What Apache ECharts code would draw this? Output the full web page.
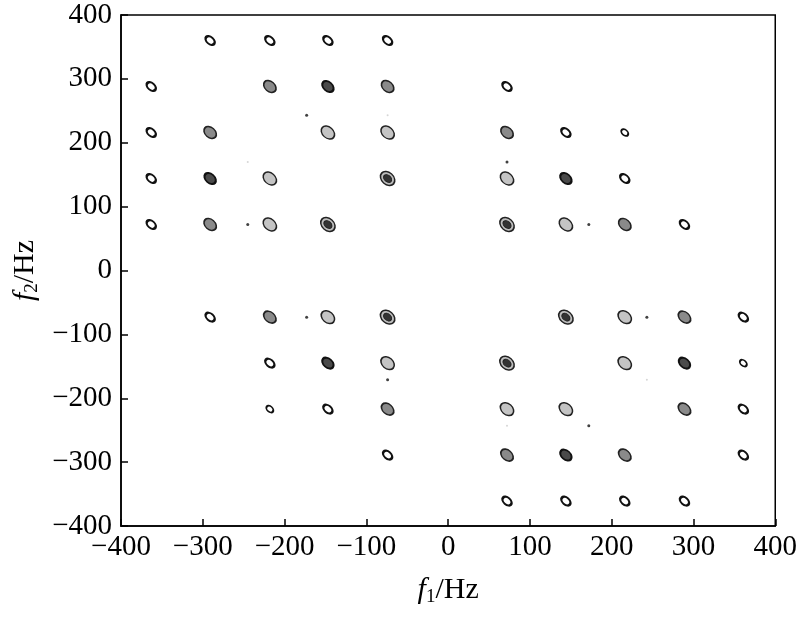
<!DOCTYPE html>
<html>
<head>
<meta charset="utf-8">
<script src="https://cdn.jsdelivr.net/npm/echarts@6/dist/echarts.min.js"></script>
<style>html,body{margin:0;padding:0;background:#fff}#c{width:800px;height:621px}</style>
</head>
<body>
<div id="c"></div>
<script>
// f1, f2 (Hz) of cross peaks, grouped by contour intensity
const peaksWeak = [
  [-291,360],[-218,360],[-147,360],[-74,360],
  [-363,288],[72,288],
  [-363,216],[144,216],
  [-363,144],[216,144],
  [-363,72],[289,72],
  [-291,-73],[361,-73],
  [-218,-145],
  [-147,-217],[361,-217],
  [-74,-289],[361,-289],
  [72,-361],[144,-361],[216,-361],[289,-361]
];
const peaksSmall = [[216,216],[-218,-217],[361,-145]];
const peaksDark = [[-147,288],[-291,144],[144,144],[-147,-145],[289,-145],[144,-289]];
const peaksGrey = [
  [-218,288],[-74,288],[-291,216],[72,216],[-291,72],[216,72],
  [-218,-73],[289,-73],[-74,-217],[289,-217],[72,-289],[216,-289]
];
const peaksLight = [
  [-147,216],[-74,216],[-218,144],[72,144],[-218,72],[144,72],
  [-147,-73],[216,-73],[-74,-145],[216,-145],[72,-217],[144,-217]
];
const peaksStrong = [[-74,144],[-147,72],[72,72],[-74,-73],[144,-73],[72,-145]];
const dots = [[-173,243],[-245,72],[72,170],[172,72],[-173,-73],[243,-73],[-74,-171],[172,-243]];
const faintDots = [[-74,243],[-245,170],[243,-171],[72,-243]];

const xRange = [-400, 400];
const yRange = [-400, 400];
const tickStep = 100;

const serif = '"Liberation Serif", "Times New Roman", serif';
const ROT = -42;
const minusFmt = v => String(v).replace('-', '\u2212');

function peakSeries(data, size, fill, border, bw, z) {
  return {
    type: 'scatter', data: data, symbol: 'circle', symbolSize: size, symbolRotate: ROT,
    itemStyle: { color: fill, borderColor: border, borderWidth: bw, opacity: 1 },
    z: z || 2, silent: true, animation: false
  };
}

const nameRich = {
  i: { fontFamily: serif, fontStyle: 'italic', fontSize: 30, color: '#000' },
  s: { fontFamily: serif, fontSize: 19, color: '#000', padding: [14, 0, 0, 0] },
  n: { fontFamily: serif, fontSize: 30, color: '#000' }
};

const chart = echarts.init(document.getElementById('c'), null, { renderer: 'canvas' });
chart.setOption({
  backgroundColor: '#fff',
  animation: false,
  grid: { left: 121, right: 24, top: 15, bottom: 95, show: true, borderColor: '#000', borderWidth: 1.5, backgroundColor: 'transparent' },
  xAxis: {
    type: 'value', min: xRange[0], max: xRange[1], interval: tickStep,
    axisLine: { show: true, onZero: false, lineStyle: { color: '#000', width: 1.5 } },
    axisTick: { show: true, inside: true, length: 7, lineStyle: { color: '#000', width: 1.5 } },
    splitLine: { show: false },
    axisLabel: { color: '#000', fontFamily: serif, fontSize: 29, margin: 7, formatter: minusFmt },
    name: '{i|f}{s|1}{n|/Hz}', nameLocation: 'middle', nameGap: 48,
    nameTextStyle: { rich: nameRich }
  },
  yAxis: {
    type: 'value', min: yRange[0], max: yRange[1], interval: tickStep,
    axisLine: { show: true, onZero: false, lineStyle: { color: '#000', width: 1.5 } },
    axisTick: { show: true, inside: true, length: 7, lineStyle: { color: '#000', width: 1.5 } },
    splitLine: { show: false },
    axisLabel: { color: '#000', fontFamily: serif, fontSize: 29, margin: 9, formatter: minusFmt },
    name: '{i|f}{s|2}{n|/Hz}', nameLocation: 'middle', nameGap: 74, nameRotate: 90,
    nameTextStyle: { rich: nameRich }
  },
  series: [
    peakSeries(peaksWeak, [10.5, 7], '#fff', '#111', 2.3),
    peakSeries(peaksSmall, [8, 5.5], '#fff', '#111', 1.8),
    peakSeries(peaksDark, [13, 9], '#4a4a4a', '#111', 2),
    peakSeries(peaksGrey, [14, 10], '#8a8a8a', '#222', 1.6),
    peakSeries(peaksLight, [15, 11], '#c4c4c4', '#222', 1.5),
    peakSeries(peaksStrong, [16, 12], '#bdbdbd', '#222', 1.5),
    peakSeries(peaksStrong, [9, 6.5], '#333', '#222', 1, 3),
    { type: 'scatter', data: dots, symbol: 'circle', symbolSize: 3, itemStyle: { color: '#111' }, silent: true },
    { type: 'scatter', data: faintDots, symbol: 'circle', symbolSize: 2, itemStyle: { color: '#ccc' }, silent: true }
  ]
});
</script>
</body>
</html>
